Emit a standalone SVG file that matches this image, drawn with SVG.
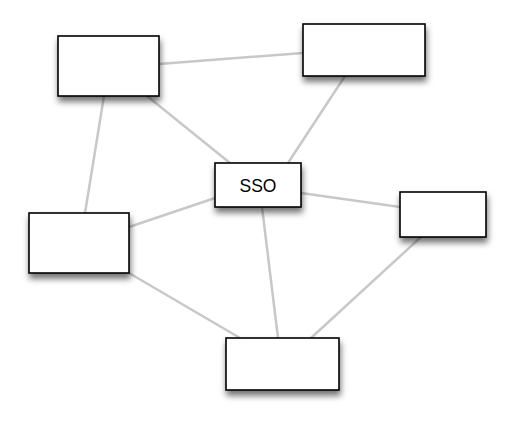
<svg xmlns="http://www.w3.org/2000/svg" width="516" height="426" viewBox="0 0 516 426">
<defs>
<filter id="sh" x="-30%" y="-30%" width="160%" height="180%">
<feDropShadow dx="1" dy="5" stdDeviation="3" flood-color="#000" flood-opacity="0.55"/>
</filter>
<style>
.n{fill:#fff;stroke:#000;stroke-width:1.6;filter:url(#sh)}
.c line{stroke:#c8c8c8;stroke-width:2.5;fill:none}
.t{font-family:"Liberation Sans",Arial,sans-serif;font-size:17.5px;fill:#000;text-anchor:middle}
</style>
</defs>
<rect width="516" height="426" fill="#fff"/>
<g id="connectors" class="c">
<line x1="159" y1="64" x2="303" y2="53"/>
<line x1="104" y1="96" x2="85" y2="213"/>
<line x1="147" y1="96" x2="230" y2="163"/>
<line x1="345" y1="76" x2="288" y2="163"/>
<line x1="215" y1="198" x2="129" y2="227"/>
<line x1="301" y1="193" x2="400" y2="207"/>
<line x1="262" y1="207" x2="278" y2="338"/>
<line x1="129" y1="273" x2="240" y2="338"/>
<line x1="421" y1="237" x2="311" y2="338"/>
</g>
<g id="nodeA"><rect class="n" x="58" y="36" width="101" height="60"/></g>
<g id="nodeE"><rect class="n" x="303" y="24" width="122" height="52"/></g>
<g id="nodeSSO"><rect class="n" x="215" y="163" width="86" height="44"/><text class="t" x="258" y="192">SSO</text></g>
<g id="nodeC"><rect class="n" x="29" y="213" width="100" height="60"/></g>
<g id="nodeF"><rect class="n" x="400" y="192" width="86" height="45"/></g>
<g id="nodeD"><rect class="n" x="226" y="338" width="113" height="52"/></g>
</svg>
